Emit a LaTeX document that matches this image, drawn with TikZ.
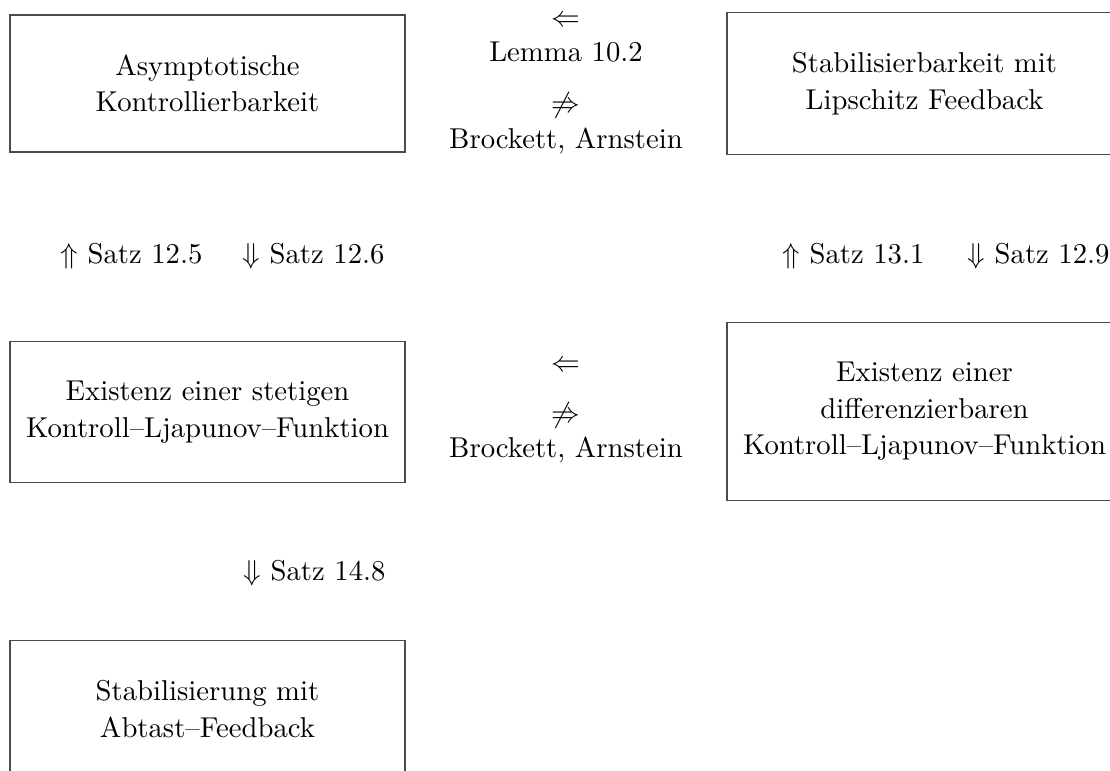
\documentclass[tikz,border=0pt]{standalone}
\usepackage{amsmath}
\usepackage{amssymb}
\usepackage{tikz}
\usetikzlibrary{positioning}
\tikzset{
  box/.style={rectangle, draw=black!70, align=center, minimum width=137.6pt, inner xsep=3pt, inner ysep=13.9pt,
              font=\fontsize{10}{12.7}\selectfont},
  lbl/.style={inner sep=0pt, font=\normalsize},
}

\begin{document}
\begin{tikzpicture}[x=0.3484pt, y=-0.3484pt]
\useasboundingbox (0,0) rectangle (1110,770);
\clip (0,0) rectangle (1110,770);

%Nodes
\node[box] (asym) at (207.5,83.5) {Asymptotische\\Kontrollierbarkeit};
\node[box] (lipfb) at (924.5,83.5) {Stabilisierbarkeit mit\\Lipschitz Feedback};
\node[box] (cclf) at (207.5,412) {Existenz einer stetigen\\Kontroll--Ljapunov--Funktion};
\node[box] (dclf) at (924.5,411.5) {Existenz einer\\differenzierbaren\\Kontroll--Ljapunov--Funktion};
\node[box, anchor=north] (sample) at (207.5,640) {Stabilisierung mit\\Abtast--Feedback};

%Labels between the columns
\node[lbl, anchor=base] (imp1) at (566,26) {$\Leftarrow$};
\node[lbl, anchor=base] (lemma) at (566,61) {Lemma 10.2};
\node[lbl, anchor=base] (nimp1) at (566,112) {$\not\Rightarrow$};
\node[lbl, anchor=base] (brock1) at (566,148) {Brockett, Arnstein};

\node[lbl, anchor=base] (imp2) at (566,371) {$\Leftarrow$};
\node[lbl, anchor=base] (nimp2) at (566,422) {$\not\Rightarrow$};
\node[lbl, anchor=base] (brock2) at (566,457) {Brockett, Arnstein};

%Labels between the rows
\node[lbl, anchor=base east] (satzA) at (203,263) {$\Uparrow$ Satz 12.5};
\node[lbl, anchor=base west] (satzB) at (242,263) {$\Downarrow$ Satz 12.6};
\node[lbl, anchor=base east] (satzC) at (925,263) {$\Uparrow$ Satz 13.1};
\node[lbl, anchor=base west] (satzD) at (967,263) {$\Downarrow$ Satz 12.9};
\node[lbl, anchor=base west] (satzE) at (243,580) {$\Downarrow$ Satz 14.8};
\end{tikzpicture}
\end{document}
